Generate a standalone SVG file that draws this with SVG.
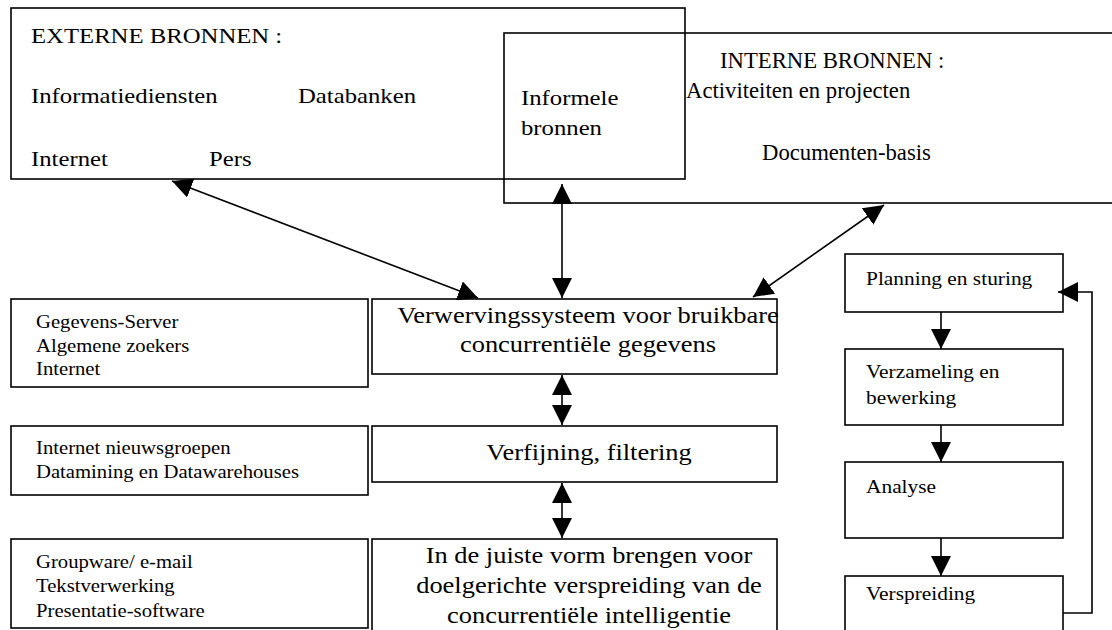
<svg xmlns="http://www.w3.org/2000/svg" width="1112" height="630" viewBox="0 0 1112 630">
  <style>
    .box { fill: none; stroke: #000; stroke-width: 1.6; }
    .wire { fill: none; stroke: #000; stroke-width: 1.6; }
    .t { font-family: 'Liberation Serif', 'DejaVu Serif', serif; fill: #000; }
    .big { font-size: 21.5px; }
    .plain { font-size: 22.7px; }
    .mid { font-size: 23px; text-anchor: middle; }
    .small { font-size: 18px; }
    .cycle { font-size: 18.6px; }
  </style>
  <defs>
    <marker id="head" viewBox="0 0 20 20" refX="20" refY="10" markerWidth="20" markerHeight="20" markerUnits="userSpaceOnUse" orient="auto-start-reverse">
      <path d="M0,0 L20,10 L0,20 z" fill="#000"/>
    </marker>
    <clipPath id="clip-l3"><rect x="11" y="539" width="357" height="78"/></clipPath>
  </defs>
  <rect width="1112" height="630" fill="#fff"/>

  <!-- source boxes -->
  <g id="externe-bronnen">
    <rect class="box" x="11" y="8" width="674" height="171"/>
    <text class="t big" transform="translate(31,43) scale(1.15,1)">EXTERNE BRONNEN :</text>
    <text class="t big" transform="translate(31,103) scale(1.15,1)">Informatiediensten</text>
    <text class="t big" transform="translate(298,103) scale(1.15,1)">Databanken</text>
    <text class="t big" transform="translate(31,166) scale(1.15,1)">Internet</text>
    <text class="t big" transform="translate(209,166) scale(1.15,1)">Pers</text>
    <text class="t big" transform="translate(521,105) scale(1.15,1)">Informele</text>
    <text class="t big" transform="translate(521,135) scale(1.15,1)">bronnen</text>
  </g>
  <g id="interne-bronnen">
    <rect class="box" x="504" y="33" width="620" height="170"/>
    <text class="t plain" x="720" y="68">INTERNE BRONNEN :</text>
    <text class="t plain" x="686" y="98">Activiteiten en projecten</text>
    <text class="t plain" x="762" y="160">Documenten-basis</text>
  </g>

  <!-- tool boxes, left column -->
  <g id="tools-verwerving">
    <rect class="box" x="11" y="299" width="357" height="88"/>
    <text class="t small" transform="translate(36,328) scale(1.15,1)">Gegevens-Server<tspan x="0" dy="24">Algemene zoekers</tspan><tspan x="0" dy="23">Internet</tspan></text>
  </g>
  <g id="tools-verfijning">
    <rect class="box" x="11" y="426" width="357" height="69"/>
    <text class="t small" transform="translate(36,454) scale(1.15,1)">Internet nieuwsgroepen<tspan x="0" dy="24">Datamining en Datawarehouses</tspan></text>
  </g>
  <g id="tools-verspreiding">
    <rect class="box" x="11" y="539" width="357" height="89"/>
    <g clip-path="url(#clip-l3)">
      <text class="t small" transform="translate(36,568) scale(1.15,1)">Groupware/ e-mail<tspan x="0" dy="24">Tekstverwerking</tspan><tspan x="0" dy="25">Presentatie-software</tspan></text>
    </g>
  </g>

  <!-- process boxes, middle column -->
  <g id="verwerving">
    <rect class="box" x="372" y="299" width="405" height="75"/>
    <text class="t mid" transform="translate(588,323) scale(1.15,1)">Verwervingssysteem voor bruikbare<tspan x="0" dy="29">concurrentiële gegevens</tspan></text>
  </g>
  <g id="verfijning">
    <rect class="box" x="372" y="426" width="405" height="56"/>
    <text class="t mid" transform="translate(589,460) scale(1.15,1)">Verfijning, filtering</text>
  </g>
  <g id="verspreiding-vorm">
    <rect class="box" x="372" y="539" width="405" height="100"/>
    <text class="t mid" transform="translate(589,563) scale(1.15,1)">In de juiste vorm brengen voor<tspan x="0" dy="30">doelgerichte verspreiding van de</tspan><tspan x="0" dy="30">concurrentiële intelligentie</tspan></text>
  </g>

  <!-- intelligence cycle, right column -->
  <g id="planning">
    <rect class="box" x="845" y="254" width="218" height="58"/>
    <text class="t cycle" transform="translate(866,285) scale(1.15,1)">Planning en sturing</text>
  </g>
  <g id="verzameling">
    <rect class="box" x="845" y="349" width="218" height="76"/>
    <text class="t cycle" transform="translate(866,378) scale(1.15,1)">Verzameling en<tspan x="0" dy="26">bewerking</tspan></text>
  </g>
  <g id="analyse">
    <rect class="box" x="845" y="462" width="218" height="76"/>
    <text class="t cycle" transform="translate(866,493) scale(1.15,1)">Analyse</text>
  </g>
  <g id="verspreiding">
    <rect class="box" x="845" y="576" width="218" height="64"/>
    <text class="t cycle" transform="translate(866,600) scale(1.15,1)">Verspreiding</text>
  </g>

  <!-- connectors -->
  <g id="connectors">
    <line class="wire" x1="172" y1="181" x2="478" y2="298" marker-start="url(#head)" marker-end="url(#head)"/>
    <line class="wire" x1="562" y1="184" x2="562" y2="298" marker-start="url(#head)" marker-end="url(#head)"/>
    <line class="wire" x1="884" y1="205" x2="753" y2="297" marker-start="url(#head)" marker-end="url(#head)"/>
    <line class="wire" x1="562" y1="375" x2="562" y2="425" marker-start="url(#head)" marker-end="url(#head)"/>
    <line class="wire" x1="562" y1="483" x2="562" y2="538" marker-start="url(#head)" marker-end="url(#head)"/>
    <line class="wire" x1="941" y1="312" x2="941" y2="349" marker-end="url(#head)"/>
    <line class="wire" x1="941" y1="425" x2="941" y2="462" marker-end="url(#head)"/>
    <line class="wire" x1="941" y1="538" x2="941" y2="576" marker-end="url(#head)"/>
    <path class="wire" d="M1063,613 H1092 V292 H1058" marker-end="url(#head)"/>
  </g>
</svg>
